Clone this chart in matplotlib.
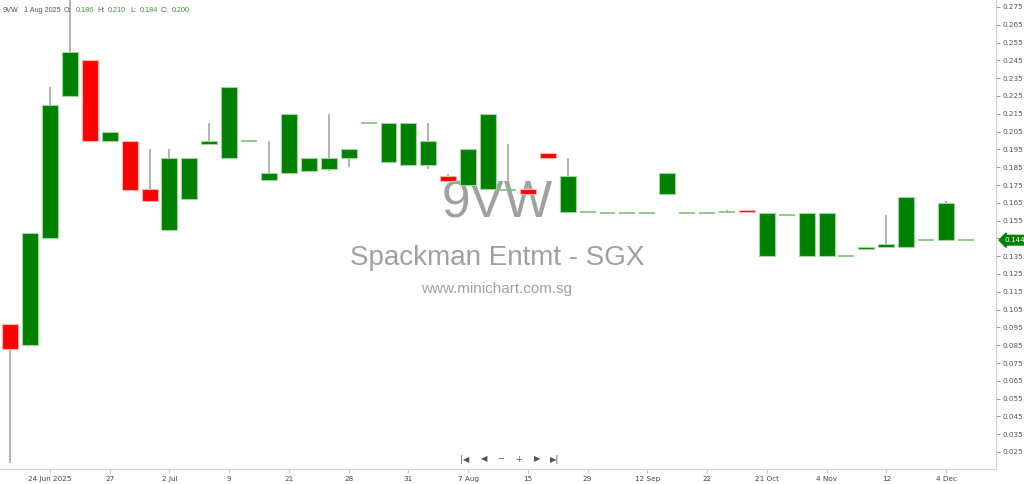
import numpy as np
import matplotlib
matplotlib.use("Agg")
import matplotlib.pyplot as plt
import matplotlib.transforms as mtrans

# OHLC (one candle per trading day shown)
opens = [0.097, 0.085, 0.145, 0.225, 0.245, 0.200, 0.200, 0.173, 0.150, 0.167,
         0.198, 0.190, 0.200, 0.178, 0.182, 0.183, 0.184, 0.190, 0.210, 0.188,
         0.186, 0.186, 0.180, 0.175, 0.173, 0.172, 0.173, 0.193, 0.160, 0.160,
         0.159, 0.159, 0.159, 0.170, 0.159, 0.159, 0.160, 0.161, 0.135, 0.158,
         0.135, 0.135, 0.135, 0.139, 0.140, 0.140, 0.144, 0.144, 0.144]
highs = [0.097, 0.148, 0.230, 0.285, 0.245, 0.205, 0.200, 0.195, 0.195, 0.190,
         0.210, 0.230, 0.200, 0.200, 0.215, 0.190, 0.215, 0.195, 0.210, 0.210,
         0.210, 0.210, 0.181, 0.195, 0.215, 0.198, 0.173, 0.193, 0.190, 0.160,
         0.159, 0.159, 0.159, 0.182, 0.159, 0.159, 0.161, 0.161, 0.159, 0.158,
         0.159, 0.159, 0.135, 0.140, 0.158, 0.168, 0.144, 0.166, 0.144]
lows = [0.019, 0.085, 0.145, 0.225, 0.200, 0.199, 0.172, 0.166, 0.150, 0.167,
        0.198, 0.190, 0.200, 0.178, 0.182, 0.183, 0.183, 0.185, 0.210, 0.188,
        0.186, 0.184, 0.177, 0.175, 0.173, 0.172, 0.170, 0.190, 0.159, 0.160,
        0.159, 0.159, 0.159, 0.170, 0.159, 0.159, 0.160, 0.160, 0.135, 0.158,
        0.135, 0.135, 0.135, 0.139, 0.140, 0.140, 0.144, 0.144, 0.144]
closes = [0.083, 0.148, 0.220, 0.250, 0.200, 0.205, 0.172, 0.166, 0.190, 0.190,
          0.200, 0.230, 0.200, 0.182, 0.215, 0.190, 0.190, 0.195, 0.210, 0.210,
          0.210, 0.200, 0.177, 0.195, 0.215, 0.172, 0.170, 0.190, 0.180, 0.160,
          0.159, 0.159, 0.159, 0.182, 0.159, 0.159, 0.160, 0.160, 0.159, 0.158,
          0.159, 0.159, 0.135, 0.140, 0.142, 0.168, 0.144, 0.165, 0.144]

date_ticks = [2, 5, 8, 11, 14, 17, 20, 23, 26, 29, 32, 35, 38, 41, 44, 47]
date_labels = ["24 Jun 2025", "27", "2 Jul", "9", "21", "28", "31", "7 Aug",
               "15", "29", "12 Sep", "22", "21 Oct", "4 Nov", "12", "4 Dec"]
last_price = 0.144

GREEN = "#008000"
GREEN_EDGE = "#9fd69f"
RED = "#ff0000"
RED_EDGE = "#ffb3b3"
WICK = "#a6a6a6"

fig = plt.figure(figsize=(10.24, 4.84), dpi=100)
ax = fig.add_axes([0.0, 15 / 484, 996 / 1024, 469 / 484])

o = np.array(opens)
h = np.array(highs)
l = np.array(lows)
c = np.array(closes)
x = np.arange(len(o))

# watermark behind the candles
wm = "#a0a0a0"
ax.text(497 / 1024, 1 - 204 / 484, "9VW", ha="center", va="center",
        fontsize=37, color=wm, family="Liberation Sans",
        transform=fig.transFigure, zorder=0)
ax.text(497 / 1024, 1 - 258 / 484, "Spackman Entmt - SGX", ha="center",
        va="center", fontsize=20, color=wm, family="Liberation Sans",
        transform=fig.transFigure, zorder=0)
ax.text(497 / 1024, 1 - 289 / 484, "www.minichart.com.sg", ha="center",
        va="center", fontsize=11, color=wm, family="Liberation Sans",
        transform=fig.transFigure, zorder=0)

# wicks
ax.vlines(x, l, h, color=WICK, linewidth=1.2, zorder=1)

up = c > o
down = c < o
flat = c == o
ax.bar(x[up], (c - o)[up], bottom=o[up], width=0.8, color=GREEN,
       edgecolor=GREEN_EDGE, linewidth=0.8, zorder=2)
ax.bar(x[down], (o - c)[down], bottom=c[down], width=0.8, color=RED,
       edgecolor=RED_EDGE, linewidth=0.8, zorder=2)
ax.hlines(c[flat], x[flat] - 0.4, x[flat] + 0.4, color="#7cc47c",
          linewidth=1.2, zorder=2)

ax.set_xlim(-0.51, 49.51)
ax.set_ylim(0.275 - 462 / 1780, 0.275 + 7 / 1780)

ax.yaxis.tick_right()
ax.set_yticks(np.arange(0.025, 0.2751, 0.01))
ax.set_yticklabels([f"{v:.3f}" for v in np.arange(0.025, 0.2751, 0.01)])
ax.tick_params(axis="y", length=3, width=0.6, pad=2, labelsize=5.2,
               colors="#888888", labelcolor="#555555")
ax.set_xticks(date_ticks)
ax.set_xticklabels(date_labels)
ax.tick_params(axis="x", length=3, width=0.6, pad=2, labelsize=5.2,
               colors="#bbbbbb", labelcolor="#444444")

for s in ["top", "left"]:
    ax.spines[s].set_visible(False)
ax.spines["right"].set_color("#d0d0d0")
ax.spines["bottom"].set_color("#d0d0d0")
ax.spines["right"].set_linewidth(0.8)
ax.spines["bottom"].set_linewidth(0.8)

# last price tag
trans = mtrans.blended_transform_factory(ax.transAxes, ax.transData)
ax.annotate(f"{last_price:.3f}", xy=(1.0, last_price), xycoords=trans,
            xytext=(6, 0), textcoords="offset points", va="center", ha="left",
            fontsize=5.2, color="white", annotation_clip=False,
            bbox=dict(boxstyle="larrow,pad=0.25", fc=GREEN, ec=GREEN))

# header line
hdr_y = 1 - 11 / 484
parts = [(3, "9VW", "#555555"), (24, "1 Aug 2025", "#555555"),
         (64, "O:", "#555555"), (76, "0.186", "#2e9e2e"),
         (97, "H:", "#555555"), (108, "0.210", "#2e9e2e"),
         (130, "L:", "#555555"), (140, "0.184", "#2e9e2e"),
         (161, "C:", "#555555"), (172, "0.200", "#2e9e2e")]
for px, txt, col in parts:
    fig.text(px / 1024, hdr_y, txt, ha="left", va="center", fontsize=5.2,
             color=col, family="Liberation Sans")

# navigation buttons
nav = [(465, "|◀"), (484, "◀"), (501, "−"), (519, "+"), (537, "▶"), (555, "▶|")]
for px, txt in nav:
    fig.text(px / 1024, 1 - 459 / 484, txt, ha="center", va="center",
             fontsize=6, color="#555555")

fig.savefig("out.png", dpi=100)
